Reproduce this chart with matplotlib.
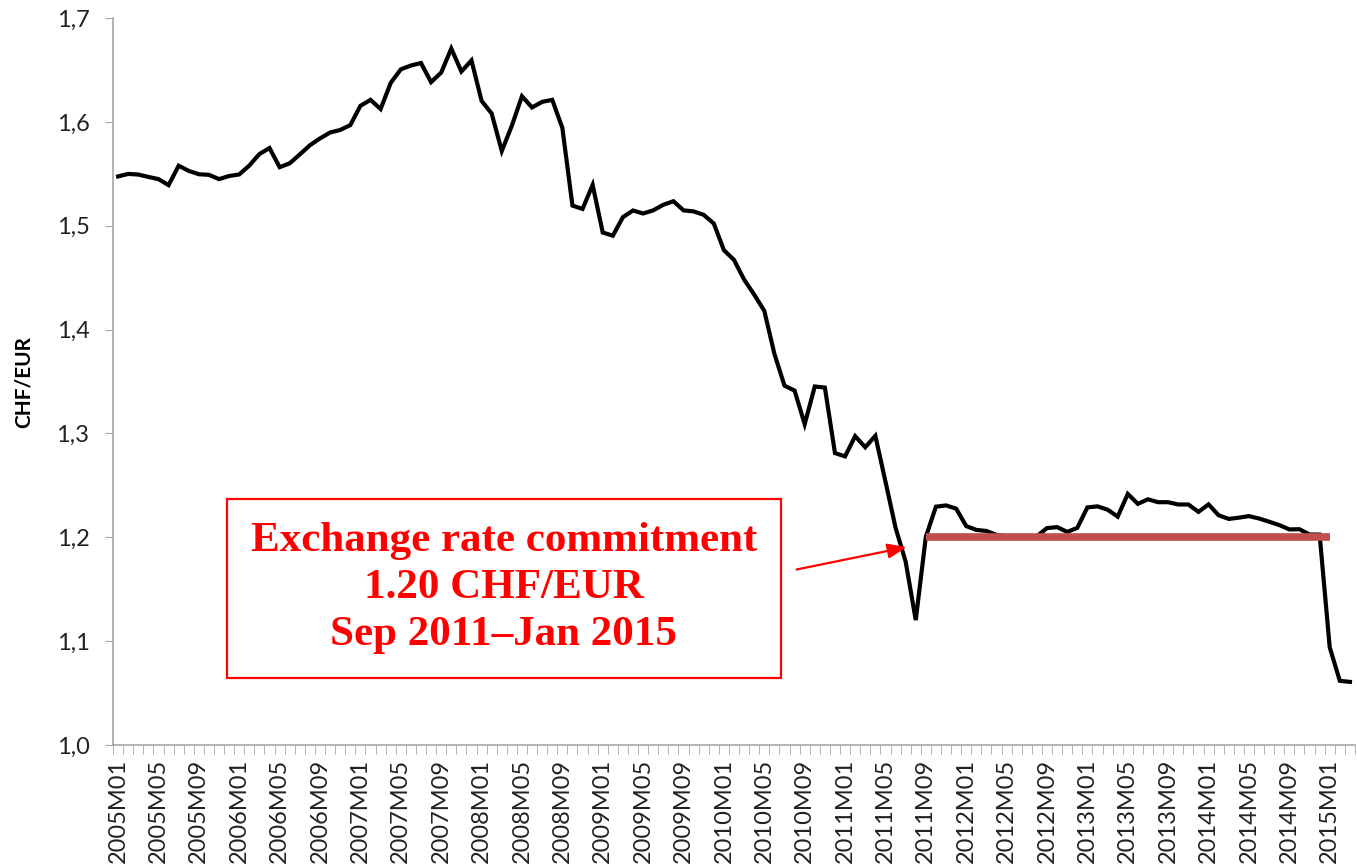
import matplotlib
matplotlib.use("Agg")
import matplotlib.pyplot as plt
from matplotlib.ticker import FixedLocator, FuncFormatter

# Monthly average CHF per EUR, 2005M01 .. 2015M03
years = list(range(2005, 2016))
rate_2005 = [1.5475, 1.5499, 1.5493, 1.5470, 1.5449, 1.5391, 1.5578, 1.5528, 1.5496, 1.5490, 1.5449, 1.5479]
rate_2006 = [1.5494, 1.5580, 1.5691, 1.5748, 1.5564, 1.5601, 1.5687, 1.5775, 1.5841, 1.5898, 1.5922, 1.5969]
rate_2007 = [1.6155, 1.6212, 1.6124, 1.6375, 1.6506, 1.6543, 1.6567, 1.6383, 1.6475, 1.6706, 1.6485, 1.6592]
rate_2008 = [1.6203, 1.6080, 1.5720, 1.5964, 1.6247, 1.6139, 1.6193, 1.6212, 1.5942, 1.5194, 1.5162, 1.5393]
rate_2009 = [1.4935, 1.4904, 1.5083, 1.5147, 1.5118, 1.5148, 1.5202, 1.5236, 1.5148, 1.5138, 1.5105, 1.5021]
rate_2010 = [1.4765, 1.4671, 1.4482, 1.4337, 1.4181, 1.3767, 1.3460, 1.3413, 1.3089, 1.3452, 1.3442, 1.2811]
rate_2011 = [1.2779, 1.2974, 1.2867, 1.2977, 1.2537, 1.2092, 1.1766, 1.1203, 1.2005, 1.2295, 1.2307, 1.2276]
rate_2012 = [1.2108, 1.2071, 1.2061, 1.2023, 1.2012, 1.2011, 1.2011, 1.2011, 1.2089, 1.2098, 1.2052, 1.2091]
rate_2013 = [1.2288, 1.2298, 1.2266, 1.2199, 1.2418, 1.2322, 1.2366, 1.2338, 1.2338, 1.2316, 1.2316, 1.2245]
rate_2014 = [1.2317, 1.2212, 1.2177, 1.2189, 1.2204, 1.2181, 1.2150, 1.2118, 1.2076, 1.2078, 1.2027, 1.2026]
rate_2015 = [1.0940, 1.0618, 1.0608]

rates = (rate_2005 + rate_2006 + rate_2007 + rate_2008 + rate_2009 + rate_2010
         + rate_2011 + rate_2012 + rate_2013 + rate_2014 + rate_2015)
months = [f"{y}M{m:02d}" for y in years for m in range(1, 13)][:len(rates)]

floor_level = 1.20
floor_start = "2011M09"
floor_end = "2015M01"

annotation_text = "Exchange rate commitment\n1.20 CHF/EUR\nSep 2011\u2013Jan 2015"

x = list(range(len(rates)))
i0 = months.index(floor_start)
i1 = months.index(floor_end)

fig = plt.figure(figsize=(13.57, 8.67), dpi=100)
ax = fig.add_axes([0.0833, 0.1407, 0.9152, 0.8385])

ax.plot(x, rates, color="black", linewidth=3.0, solid_joinstyle="miter", zorder=3)
ax.plot([i0, i1], [floor_level, floor_level], color="#C0504D", linewidth=5.5,
        solid_capstyle="butt", zorder=4)

ax.set_xlim(-0.5, len(rates) - 0.5)
ax.set_ylim(1.0, 1.7)
ax.set_yticks([1.0, 1.1, 1.2, 1.3, 1.4, 1.5, 1.6, 1.7])
ax.yaxis.set_major_formatter(FuncFormatter(lambda v, p: f"{v:.1f}".replace(".", ",")))

label_idx = x[::4]
ax.set_xticks(label_idx)
ax.set_xticklabels([months[i] for i in label_idx], rotation=90)
ax.xaxis.set_minor_locator(FixedLocator([i - 0.5 for i in range(len(rates) + 1)]))

tick_font = "Lato"
for lab in ax.get_xticklabels():
    lab.set_fontfamily(tick_font)
    lab.set_fontsize(17)
    lab.set_color("#222222")
for lab in ax.get_yticklabels():
    lab.set_fontfamily(tick_font)
    lab.set_fontsize(17)
    lab.set_color("#222222")

ax.tick_params(axis="x", which="major", length=0, pad=10)
ax.tick_params(axis="x", which="minor", length=6.5, color="#A6A6A6", direction="out")
ax.tick_params(axis="y", length=6, color="#A6A6A6", direction="out", pad=11)

for side in ["top", "right"]:
    ax.spines[side].set_visible(False)
for side in ["left", "bottom"]:
    ax.spines[side].set_color("#A6A6A6")
    ax.spines[side].set_linewidth(1.2)

ax.set_ylabel("CHF/EUR", fontfamily=tick_font, fontsize=15, fontweight="bold", labelpad=16)

# annotation box with arrow
ax.text(38.2, 1.151, annotation_text, ha="center", va="center",
        fontfamily="Liberation Serif", fontweight="bold", fontsize=31,
        color="#FF0000", linespacing=1.3, zorder=5,
        bbox=dict(boxstyle="square,pad=0.55", facecolor="white",
                  edgecolor="#FF0000", linewidth=1.6))
ax.annotate("", xy=(78.1, 1.1906), xytext=(67.2, 1.169),
            arrowprops=dict(arrowstyle="-|>,head_length=1.15,head_width=0.45",
                            color="#FF0000", linewidth=1.6,
                            shrinkA=0, shrinkB=0))

fig.savefig("out.png", dpi=100)
